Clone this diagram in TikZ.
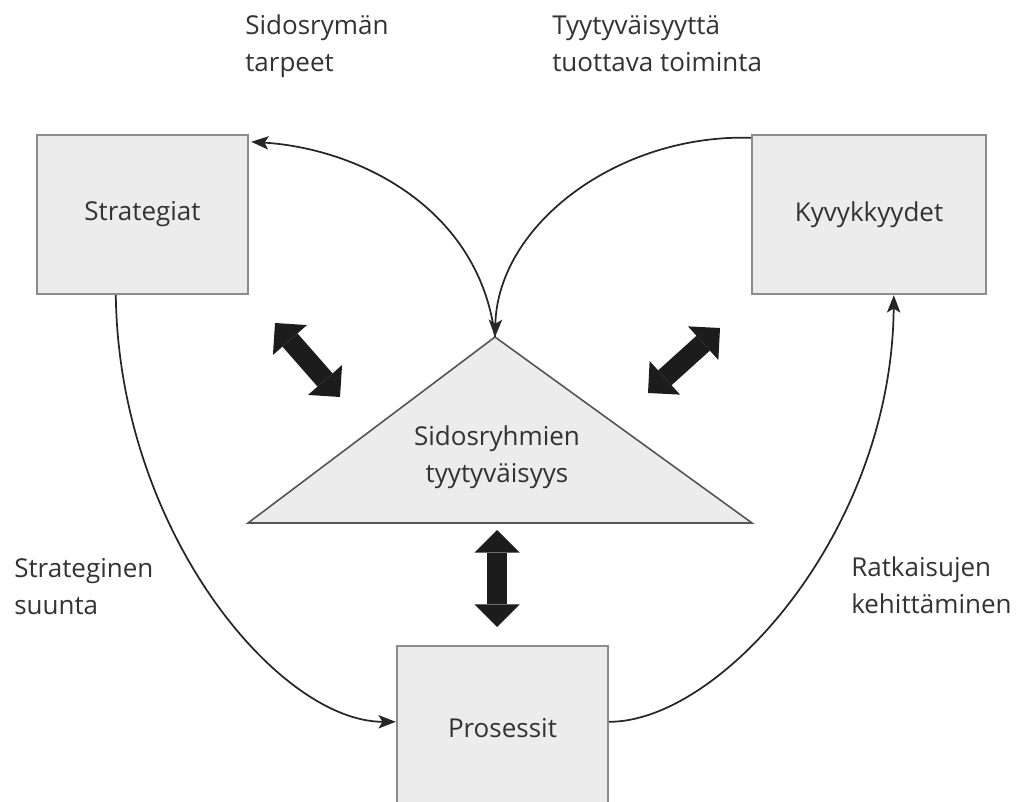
\documentclass[tikz,border=0pt]{standalone}
\usepackage{fontspec}
\setmainfont{Open Sans}
\usetikzlibrary{arrows.meta,calc}
\definecolor{boxfill}{HTML}{ECECEC}
\definecolor{boxline}{HTML}{8C8C8C}
\definecolor{triline}{HTML}{555555}
\definecolor{txt}{HTML}{333333}
\definecolor{heavy}{HTML}{1C1C1C}
\tikzset{
  box/.style={draw=boxline, fill=boxfill, line width=1.8pt, inner sep=0pt,
    text=txt, font=\fontsize{19.5pt}{27.75pt}\selectfont},
  lbl/.style={inner sep=0pt, text=txt, align=left,
    font=\fontsize{19.5pt}{27.75pt}\selectfont},
  flow/.style={draw=black!85, line width=1.3pt,
    -{Stealth[length=13pt,width=10pt,inset=3pt]}},
  bigarrow/.style={draw=heavy, line width=15pt,
    {Triangle[length=17pt,width=34pt,line width=0pt]}-{Triangle[length=17pt,width=34pt,line width=0pt]}}
}
\begin{document}
\begin{tikzpicture}[x=0.75pt,y=-0.75pt]
\useasboundingbox (0,0) rectangle (1016,802);
\clip (0,0) rectangle (1016,802);

% the three boxes
\node[box, minimum width=158.25pt, minimum height=119.25pt] (strat) at (142.5,214.5) {Strategiat};
\node[box, minimum width=175.5pt, minimum height=119.25pt] (kyv) at (869,214.5) {Kyvykkyydet};
\node[box, minimum width=158.25pt, minimum height=123pt] (pros) at (502.5,728) {Prosessit};

% central triangle
\coordinate (apex) at (495,337);
\coordinate (tl) at (248,523);
\coordinate (tr) at (752,523);
\draw[draw=triline, fill=boxfill, line width=1.2pt, line join=miter] (apex) -- (tl) -- (tr) -- cycle;
\node[lbl, align=center, anchor=base] (sat) at (497,482) {Sidosryhmien\\tyytyväisyys};

% curved flows
\draw[flow] (apex) .. controls +(-15,-127) and +(110,7) .. ($(strat.north east)+(2,8)$);
\draw[flow] ($(kyv.north west)+(0,4)$) .. controls +(-132,-4) and +(3,-113) .. (apex);
\draw[flow] ($(strat.south west)+(80,0)$) .. controls +(3,236) and +(-117,0) .. ($(pros.north west)+(0,77)$);
\draw[flow] ($(pros.north east)+(0,77)$) .. controls +(112,0) and +(-2,236) .. ($(kyv.south west)+(143,0)$);

% heavy two-way arrows
\coordinate (la) at (275,323);
\coordinate (lb) at (340,397);
\coordinate (ra) at (648,393);
\coordinate (rb) at (720,328);
\coordinate (ba) at (497,530);
\coordinate (bb) at (497,627);
\draw[bigarrow] (la) -- (lb);
\draw[bigarrow] (ra) -- (rb);
\draw[bigarrow] (ba) -- (bb);

% flow labels (anchored at the baseline of their last line)
\node[lbl, anchor=base west] (needs) at (245,72) {Sidosrymän\\tarpeet};
\node[lbl, anchor=base west] (action) at (552,72) {Tyytyväisyyttä\\tuottava toiminta};
\node[lbl, anchor=base west] (direction) at (14,614) {Strateginen\\suunta};
\node[lbl, anchor=base west] (solutions) at (851,613) {Ratkaisujen\\kehittäminen};
\end{tikzpicture}
\end{document}
